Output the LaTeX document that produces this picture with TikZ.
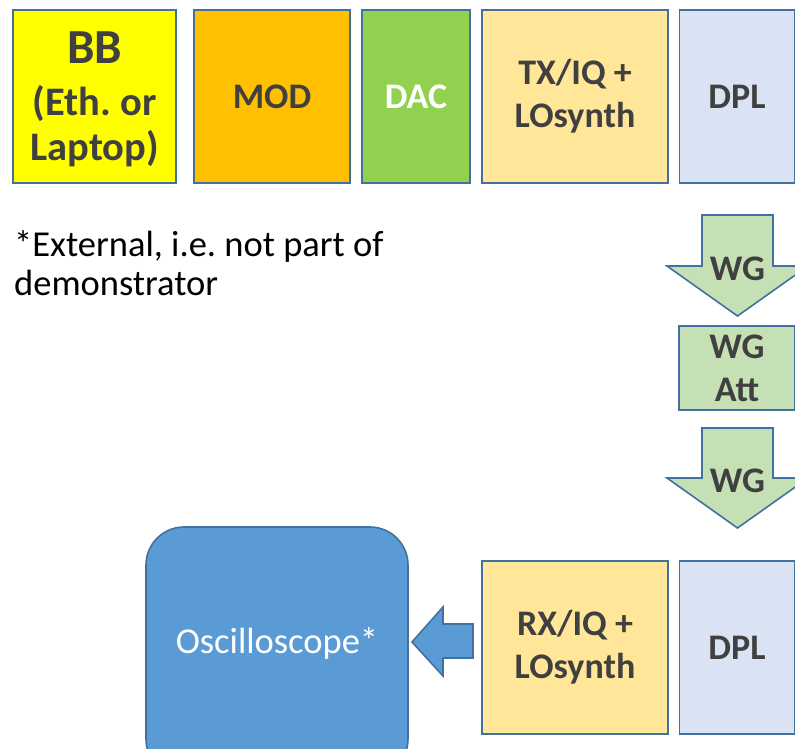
\documentclass[tikz,border=0pt]{standalone}
\usepackage{fontspec}
\setmainfont{Carlito}
\frenchspacing
\definecolor{edge}{HTML}{41719C}
\definecolor{ink}{HTML}{404040}
\definecolor{bbfill}{HTML}{FFFF00}
\definecolor{modfill}{HTML}{FFC000}
\definecolor{dacfill}{HTML}{92D050}
\definecolor{trxfill}{HTML}{FFE699}
\definecolor{dplfill}{HTML}{DAE3F3}
\definecolor{wgfill}{HTML}{C5E0B4}
\definecolor{scopefill}{HTML}{5B9BD5}
\tikzset{
  blockbox/.style={draw=edge, line width=1.6pt, inner sep=0pt, align=center,
    text=ink, font=\fontsize{36}{43}\selectfont\bfseries},
  blockarrow/.style={draw=edge, line width=1.6pt, line join=miter},
  arrowlabel/.style={text=ink, font=\fontsize{36}{43}\selectfont\bfseries, inner sep=0pt}
}
\begin{document}
\begin{tikzpicture}[x=1pt, y=-1pt]
  \useasboundingbox (0,0) rectangle (795,748);
  \begin{scope}
    \clip (0,0) rectangle (795,748);

    % transmit chain
    \node[blockbox, fill=bbfill, minimum width=163pt, minimum height=173pt] (bb) at (94.5,96.5) {};
    \node[text=ink, inner sep=0pt, anchor=base, font=\fontsize{49}{50}\selectfont\bfseries] (bbname)
      at (94.5,63) {BB};
    \node[text=ink, inner sep=0pt, anchor=base, align=center, font=\fontsize{40.5}{45}\selectfont\bfseries] (bbsub)
      at (94.5,160) {(Eth. or\\Laptop)};
    \node[blockbox, fill=modfill, minimum width=156pt, minimum height=173pt] (mod) at (272,96.5) {MOD};
    \node[blockbox, fill=dacfill, text=white, minimum width=108pt, minimum height=173pt] (dac) at (416,96.5) {DAC};
    \node[blockbox, fill=trxfill, minimum width=186pt, minimum height=173pt] (tx) at (575,96.5) {TX/IQ +\\LOsynth};
    \node[blockbox, fill=dplfill, minimum width=115pt, minimum height=173pt] (dpltx) at (737,96.5) {DPL};

    % footnote
    \node[anchor=base west, inner sep=0pt, align=left, font=\fontsize{36.5}{39}\selectfont] (note) at (14,295)
      {*External, i.e. not part of\\demonstrator};

    % waveguide run
    \filldraw[blockarrow, fill=wgfill] (702,215) -- (773,215) -- (773,266) -- (808,266)
      -- (737.5,316) -- (667,266) -- (702,266) -- cycle;
    \node[arrowlabel, anchor=base] (wg1) at (737.5,280) {WG};

    \node[blockbox, fill=wgfill, minimum width=116pt, minimum height=84pt] (att) at (737,368) {WG\\Att};

    \filldraw[blockarrow, fill=wgfill] (702,428) -- (773,428) -- (773,478) -- (808,478)
      -- (737.5,528) -- (667,478) -- (702,478) -- cycle;
    \node[arrowlabel, anchor=base] (wg2) at (737.5,492) {WG};

    % receive chain
    \node[blockbox, fill=trxfill, minimum width=186pt, minimum height=173pt] (rx) at (575,647.5) {RX/IQ +\\LOsynth};
    \node[blockbox, fill=dplfill, minimum width=115pt, minimum height=173pt] (dplrx) at (737,647.5) {DPL};

    \node[draw=edge, line width=1.6pt, fill=scopefill, rounded corners=38pt,
      minimum width=262pt, minimum height=250pt, inner sep=0pt] (scope) at (277,652) {};
    \node[text=white, font=\fontsize{36.5}{44}\selectfont, inner sep=0pt, anchor=base] (scopelabel)
      at (277,653) {Oscilloscope*};

    \filldraw[blockarrow, fill=scopefill] (473,624) -- (473,658) -- (443,658) -- (443,676)
      -- (412,642) -- (443,607) -- (443,624) -- cycle;
  \end{scope}
\end{tikzpicture}
\end{document}
